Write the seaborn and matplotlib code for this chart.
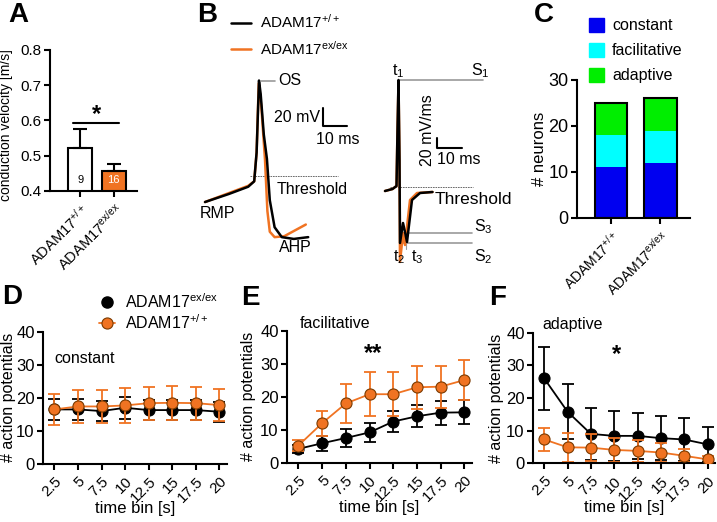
import matplotlib
matplotlib.use('Agg')
import matplotlib.pyplot as plt
import seaborn as sns
from matplotlib.lines import Line2D
from matplotlib.patches import Patch

sns.set_style('ticks', {'axes.edgecolor': 'black', 'xtick.color': 'black', 'ytick.color': 'black',
                        'text.color': 'black', 'axes.labelcolor': 'black'})
plt.rcParams['font.family'] = ['Liberation Sans', 'DejaVu Sans']
plt.rcParams['mathtext.fontset'] = 'custom'
plt.rcParams['mathtext.rm'] = 'Liberation Sans'
plt.rcParams['mathtext.it'] = 'Liberation Sans:italic'
plt.rcParams['mathtext.default'] = 'regular'
plt.rcParams['axes.linewidth'] = 1.5
plt.rcParams['xtick.major.width'] = 1.5
plt.rcParams['ytick.major.width'] = 1.5
plt.rcParams['xtick.major.size'] = 4
plt.rcParams['ytick.major.size'] = 4
plt.rcParams['ytick.major.pad'] = 2

ORANGE = '#F07322'
GRAY = '#9a9a9a'

# ---- data ----
genotype = ['ADAM17$^{+/+}$', 'ADAM17$^{ex/ex}$']

# A: conduction velocity
cv_mean = [0.52, 0.456]
cv_sem = [0.054, 0.02]
cv_n = ['9', '16']

# B: example action potential (ms, mV)
ap_t_wt = [0, 10, 18, 20.5, 21.5, 22.5, 23.2, 24.5, 25.8, 27, 29, 32, 37, 43]
ap_v_wt = [-60, -51, -43, -37, -5, 75, 60, 15, -12, -58, -88, -99, -101, -99]
ap_t_ko = [0, 10, 18, 20.5, 21.5, 22.4, 23.5, 25, 26, 27, 29, 33, 42]
ap_v_ko = [-60, -50, -42, -37, -5, 72, 45, -13, -70, -93, -99, -98, -85]

# B: first derivative (ms, mV/ms)
dv_t_wt = [0, 3, 4.6, 5.0, 5.4, 5.8, 6.0, 7.2, 8.0, 8.8, 10.8, 14, 19]
dv_d_wt = [0, 4, 10, 122, 222, 62, -104, -64, -82, -102, -18, -4, -2]
dv_t_ko = [0, 3, 4.6, 5.0, 5.4, 5.8, 6.0, 7.2, 8.0, 10, 12.8, 19]
dv_d_ko = [0, 4, 10, 122, 218, 62, -142, -84, -108, -18, -4, -2]

# C: firing pattern counts
n_constant = [11, 12]
n_facilitative = [7, 7]
n_adaptive = [7, 7]

# D-F: action potentials per time bin
time_bin = [2.5, 5, 7.5, 10, 12.5, 15, 17.5, 20]
time_labels = ['2.5', '5', '7.5', '10', '12.5', '15', '17.5', '20']
const_ko = [16.5, 16.5, 16.0, 17.0, 16.3, 16.3, 16.3, 15.8]
const_ko_sem = [3.3, 3.2, 3.1, 3.3, 3.0, 3.0, 3.0, 3.0]
const_wt = [16.5, 17.4, 17.4, 17.7, 18.4, 18.5, 18.4, 17.8]
const_wt_sem = [4.6, 5.0, 5.1, 5.2, 5.0, 5.1, 5.0, 4.8]
fac_ko = [4.2, 5.9, 7.5, 9.2, 12.5, 14.1, 15.2, 15.3]
fac_ko_sem = [1.2, 2.3, 2.6, 2.8, 3.2, 3.3, 3.6, 3.6]
fac_wt = [5.2, 12.0, 18.0, 20.8, 20.8, 22.9, 23.1, 25.1]
fac_wt_sem = [1.7, 3.8, 5.8, 6.6, 6.7, 6.5, 6.4, 6.1]
ada_ko = [26.0, 15.8, 9.0, 8.4, 8.4, 7.7, 7.3, 5.8]
ada_ko_sem = [9.7, 8.5, 8.0, 7.6, 7.1, 6.8, 6.7, 5.4]
ada_wt = [7.3, 4.9, 4.8, 4.1, 3.8, 3.3, 2.3, 1.2]
ada_wt_sem = [3.4, 4.5, 4.2, 3.6, 3.3, 3.0, 2.0, 1.0]

W, H = 717, 522
fig = plt.figure(figsize=(W / 100, H / 100), dpi=100)


def px_axes(x0, y0, x1, y1):
    return fig.add_axes([x0 / W, 1 - y1 / H, (x1 - x0) / W, (y1 - y0) / H])


def letter(x, y, s):
    fig.text(x / W, 1 - y / H, s, fontsize=20, fontweight='bold', va='top', ha='left')


# ---- A ----
axA = px_axes(50, 50, 137, 190.7)
sns.barplot(x=genotype, y=cv_mean, hue=genotype, palette=['white', ORANGE], saturation=1,
            legend=False, edgecolor='black', linewidth=1.5, width=0.72, errorbar=None, ax=axA)
axA.errorbar([0, 1], cv_mean, yerr=[[0, 0], cv_sem], fmt='none', ecolor='black',
             elinewidth=1.5, capsize=5, capthick=1.5)
axA.set_ylim(0.4, 0.8)
axA.set_xlim(-0.9, 1.7)
axA.set_yticks([0.4, 0.5, 0.6, 0.7, 0.8])
axA.set_yticklabels(['0.4', '0.5', '0.6', '0.7', '0.8'], fontsize=11)
axA.set_xticks([0, 1])
axA.set_xticklabels(genotype, rotation=45, ha='right', rotation_mode='anchor', fontsize=10.5)
axA.set_xlabel('')
axA.set_ylabel('conduction velocity [m/s]', fontsize=10)
axA.yaxis.set_label_coords(-0.43, 0.47)
axA.text(0, 0.43, cv_n[0], ha='center', va='center', fontsize=8)
axA.text(1, 0.43, cv_n[1], ha='center', va='center', fontsize=8, color='white')
axA.plot([-0.21, 1.16], [0.592, 0.592], color='black', lw=1.5, clip_on=False)
axA.text(0.48, 0.597, '*', ha='center', va='baseline', fontsize=17, fontweight='bold')
sns.despine(ax=axA)
letter(8, 2, 'A')

# ---- B: AP trace ----
axB1 = px_axes(195, 60, 365, 260)
axB1.set_xlim(-4.17, 66.67)
axB1.set_ylim(-124.4, 97.8)
axB1.axis('off')
axB1.plot([18.75, 55.4], [-31, -31], color='#555555', lw=0.6, ls=(0, (2, 1)))
axB1.plot(ap_t_ko, ap_v_ko, color=ORANGE, lw=1.8)
axB1.plot(ap_t_wt, ap_v_wt, color='black', lw=1.8)
axB1.plot([23.5, 29], [75, 75], color=GRAY, lw=1.2)
axB1.text(30.5, 75, 'OS', fontsize=11.5, va='center')
axB1.plot([49.2, 49.2, 59.2], [44.4, 24.4, 24.4], color='black', lw=1.5)
axB1.text(48, 34, '20 mV', fontsize=11.5, ha='right', va='center')
axB1.text(55.5, 9, '10 ms', fontsize=11.5, ha='center', va='center')
axB1.text(30, -45.6, 'Threshold', fontsize=11.5, va='center')
axB1.text(5.4, -73, 'RMP', fontsize=11.5, ha='center', va='center')
axB1.text(37.5, -111, 'AHP', fontsize=11.5, ha='center', va='center')

# ---- B: derivative ----
axB2 = px_axes(370, 60, 520, 266)
axB2.set_xlim(-6, 54)
axB2.set_ylim(-150, 262)
axB2.axis('off')
axB2.plot([2, 35.2], [8, 8], color='#555555', lw=0.6, ls=(0, (2, 1)))
axB2.plot([6, 39.2], [222, 222], color=GRAY, lw=1.2)
axB2.plot([8.8, 34.8], [-84, -84], color=GRAY, lw=1.2)
axB2.plot([6, 34.8], [-104, -104], color=GRAY, lw=1.2)
axB2.plot([6.4, 6.4], [-100, -116], color=GRAY, lw=0.8)
axB2.plot([8.3, 8.3], [-80, -116], color=GRAY, lw=0.8)
axB2.plot(dv_t_ko, dv_d_ko, color=ORANGE, lw=1.8)
axB2.plot(dv_t_wt, dv_d_wt, color='black', lw=1.8)
axB2.text(5.2, 240, 't$_1$', fontsize=11.5, ha='center', va='center')
axB2.text(38, 240, 'S$_1$', fontsize=11.5, ha='center', va='center')
axB2.text(20, -16, 'Threshold', fontsize=12.5, va='center')
axB2.text(35.5, -72, 'S$_3$', fontsize=11.5, va='center')
axB2.text(35.5, -132, 'S$_2$', fontsize=11.5, va='center')
axB2.text(5.6, -132, 't$_2$', fontsize=11.5, ha='center', va='center')
axB2.text(12.8, -132, 't$_3$', fontsize=11.5, ha='center', va='center')
axB2.plot([20.8, 20.8, 30.8], [106, 86, 86], color='black', lw=1.5)
axB2.text(17.2, 121, '20 mV/ms', fontsize=11.5, rotation=90, ha='center', va='center')
axB2.text(29.6, 62, '10 ms', fontsize=11.5, ha='center', va='center')

legB = [Line2D([], [], color='black', lw=1.8), Line2D([], [], color=ORANGE, lw=1.8)]
axB1.legend(legB, genotype, loc='upper left', bbox_to_anchor=(231 / W, 1 - 13 / H),
            bbox_transform=fig.transFigure, frameon=False, fontsize=11, handlelength=1.3,
            handletextpad=0.6, labelspacing=0.55, borderpad=0, borderaxespad=0)
letter(197, 2, 'B')

# ---- C ----
axC = px_axes(577, 80, 690, 218)
lower2 = [c + f for c, f in zip(n_constant, n_facilitative)]
total = [c + f + a for c, f, a in zip(n_constant, n_facilitative, n_adaptive)]
sns.barplot(x=genotype, y=total, color='#00EE00', saturation=1, width=0.66, linewidth=0,
            errorbar=None, ax=axC)
sns.barplot(x=genotype, y=lower2, color='#00FFFF', saturation=1, width=0.66, linewidth=0,
            errorbar=None, ax=axC)
sns.barplot(x=genotype, y=n_constant, color='#0000F0', saturation=1, width=0.66, linewidth=0,
            errorbar=None, ax=axC)
sns.barplot(x=genotype, y=total, color='black', fill=False, width=0.66, linewidth=1.5,
            errorbar=None, ax=axC)
axC.set_ylim(0, 30)
axC.set_xlim(-0.69, 1.6)
axC.set_yticks([0, 10, 20, 30])
axC.set_yticklabels(['0', '10', '20', '30'], fontsize=13)
axC.set_xticks([0, 1])
axC.set_xticklabels(genotype, rotation=45, ha='right', rotation_mode='anchor', fontsize=10)
axC.set_ylabel('# neurons', fontsize=12)
axC.yaxis.set_label_coords(-0.265, 0.5)
sns.despine(ax=axC)
legC = [Patch(color='#0000F0'), Patch(color='#00FFFF'), Patch(color='#00EE00')]
axC.legend(legC, ['constant', 'facilitative', 'adaptive'], loc='upper left',
           bbox_to_anchor=(589 / W, 1 - 18 / H), bbox_transform=fig.transFigure,
           frameon=False, fontsize=11.5, handlelength=0.95, handleheight=0.95,
           handletextpad=0.5, labelspacing=0.6, borderpad=0, borderaxespad=0)
letter(534, 2, 'C')


# ---- D-F ----
def firing_panel(box, ko, ko_sem, wt, wt_sem, title, tx, ty):
    ax = px_axes(*box)
    ax.errorbar(time_bin, ko, yerr=ko_sem, fmt='none', ecolor='black', elinewidth=1.3,
                capsize=4, capthick=1.3, zorder=1.5)
    sns.lineplot(x=time_bin, y=ko, color='black', marker='o', markersize=8,
                 markeredgecolor='black', linewidth=1.3, zorder=2, ax=ax)
    ax.errorbar(time_bin, wt, yerr=wt_sem, fmt='none', ecolor=ORANGE, elinewidth=1.3,
                capsize=4, capthick=1.3, zorder=2.5)
    sns.lineplot(x=time_bin, y=wt, color=ORANGE, marker='o', markersize=8,
                 markeredgecolor='#7a3a00', markeredgewidth=0.8, linewidth=1.3, zorder=3, ax=ax)
    ax.set_ylim(0, 40)
    ax.set_xlim(1.3, 20.8)
    ax.set_yticks([0, 10, 20, 30, 40])
    ax.set_yticklabels(['0', '10', '20', '30', '40'], fontsize=12)
    ax.set_xticks(time_bin)
    ax.set_xticklabels(time_labels, rotation=45, ha='right', rotation_mode='anchor', fontsize=11)
    ax.set_xlabel('time bin [s]', fontsize=12)
    ax.set_ylabel('# action potentials', fontsize=11.5)
    ax.text(tx, ty, title, fontsize=11.5, va='center', clip_on=False)
    sns.despine(ax=ax)
    return ax


axD = firing_panel((43, 331.7, 227, 464), const_ko, const_ko_sem, const_wt, const_wt_sem,
                   'constant', 2.5, 32)
axE = firing_panel((287, 331, 472, 462.7), fac_ko, fac_ko_sem, fac_wt, fac_wt_sem,
                   'facilitative', 2.6, 42.4)
axF = firing_panel((533, 332.7, 715, 463.3), ada_ko, ada_ko_sem, ada_wt, ada_wt_sem,
                   'adaptive', 2.3, 42.4)
axD.yaxis.set_label_coords(-0.145, 0.5)
axE.yaxis.set_label_coords(-0.165, 0.5)
axF.yaxis.set_label_coords(-0.16, 0.5)
for ax in (axD, axE, axF):
    ax.xaxis.set_label_coords(0.5, -0.28)
axE.text(10.4, 31.2, '**', fontsize=17, fontweight='bold', ha='center', va='baseline')
axF.text(10.2, 31.3, '*', fontsize=17, fontweight='bold', ha='center', va='baseline')

legD = [Line2D([], [], color='black', marker='o', ls='none', markersize=8),
        Line2D([], [], color=ORANGE, marker='o', markersize=8, markeredgecolor='#7a3a00',
               markeredgewidth=0.8, lw=1.3)]
axD.legend(legD, ['ADAM17$^{ex/ex}$', 'ADAM17$^{+/+}$'], loc='upper left',
           bbox_to_anchor=(99 / W, 1 - 292 / H), bbox_transform=fig.transFigure,
           frameon=False, fontsize=11.5, handlelength=1.0, handletextpad=0.6,
           labelspacing=0.15, borderpad=0, borderaxespad=0)
letter(2, 284, 'D')
letter(241, 285, 'E')
letter(489, 285, 'F')

fig.savefig('out.png', dpi=100)
